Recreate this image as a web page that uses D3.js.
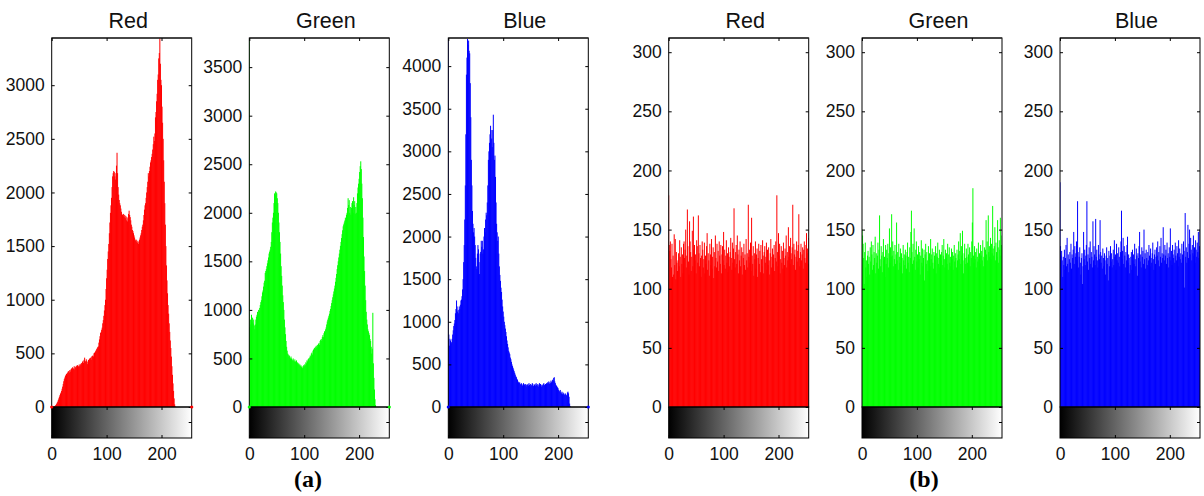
<!DOCTYPE html>
<html>
<head>
<meta charset="utf-8">
<script src="https://cdn.jsdelivr.net/npm/d3@7"></script>
<style>
body { margin: 0; background: #fff; }
svg { display: block; }
</style>
</head>
<body>
<svg width="1204" height="496"></svg>
<script>
var svg = d3.select("svg");

// chart data
var titles = ["Red", "Green", "Blue", "Red", "Green", "Blue"];
var colors = ["#ff0000", "#00ff00", "#0000ff", "#ff0000", "#00ff00", "#0000ff"];
var groupLabels = ["(a)", "(b)"];
var xTickValues = [0, 100, 200];
var yTickValues = [
  [0, 500, 1000, 1500, 2000, 2500, 3000],
  [0, 500, 1000, 1500, 2000, 2500, 3000, 3500],
  [0, 500, 1000, 1500, 2000, 2500, 3000, 3500, 4000],
  [0, 50, 100, 150, 200, 250, 300],
  [0, 50, 100, 150, 200, 250, 300],
  [0, 50, 100, 150, 200, 250, 300]
];
var yTops = [3440, 3800, 4330, 312, 312, 312];

// (a) original image histograms, bins 0..255
var redA = [
  0,0,2,3,5,8,10,15,20,30,
  40,50,65,80,95,110,125,135,150,170,
  190,215,240,260,275,290,300,310,300,320,
  330,335,320,345,330,350,360,340,370,355,
  360,380,350,375,365,385,370,390,375,380,
  395,380,400,390,410,400,420,430,410,440,
  460,430,420,445,430,400,420,440,435,450,
  455,460,440,470,475,480,470,500,505,510,
  520,530,540,550,560,565,600,630,660,690,
  700,720,740,780,810,850,900,950,1000,1100,
  1200,1280,1380,1450,1520,1620,1720,1810,1880,1950,
  2050,2150,2180,2200,2190,2150,2120,2180,2250,2370,
  2180,2050,1980,1930,1900,1880,1850,1820,1800,1790,
  1780,1800,1770,1790,1760,1780,1740,1770,1730,1760,
  1800,1830,1790,1770,1740,1700,1680,1650,1640,1620,
  1600,1580,1560,1550,1560,1540,1530,1550,1520,1540,
  1560,1580,1600,1620,1650,1680,1700,1740,1790,1840,
  1880,1900,1950,2000,2050,2100,2180,2150,2200,2240,
  2280,2300,2330,2360,2400,2450,2520,2480,2550,2700,
  2750,2850,2920,3050,3100,3250,3300,3440,3200,3050,
  3000,2800,2650,2500,2300,2100,1900,1700,1500,1320,
  1180,1060,950,870,780,700,620,550,470,380,
  300,220,150,80,25,5,0,0,0,0,
  0,0,0,0,0,0,0,0,0,0,
  0,0,0,0,0,0,0,0,0,0,
  0,0,0,0,0,0
];
var greenA = [
  3800,820,900,850,950,880,920,860,900,840,
  800,850,900,930,950,980,960,1000,990,1020,
  1050,1080,1100,1140,1180,1200,1240,1280,1300,1380,
  1400,1420,1450,1480,1510,1540,1580,1600,1620,1650,
  1700,1800,1900,1950,2000,2100,2200,2180,2220,2210,
  2200,2150,2100,2000,1900,1800,1700,1580,1450,1350,
  1250,1150,1080,1000,900,820,750,680,620,580,
  550,540,520,530,510,500,520,500,490,480,
  500,480,470,490,470,460,480,450,460,440,
  450,430,440,420,430,410,420,400,410,430,
  420,440,430,460,450,480,470,490,500,480,
  510,530,520,550,560,540,580,590,600,610,
  600,620,630,610,640,620,650,660,640,680,
  690,700,680,720,740,720,760,780,770,800,
  820,850,880,900,920,940,960,990,1010,1040,
  1070,1100,1130,1160,1190,1220,1250,1290,1330,1370,
  1420,1460,1500,1540,1580,1620,1660,1700,1740,1780,
  1820,1860,1880,1900,1920,1950,1930,1980,2000,2050,
  2150,2080,2130,2000,2060,1980,2050,2100,2120,2000,
  2160,2080,2120,1990,2060,2000,2100,2200,2260,2300,
  2350,2420,2480,2530,2450,2300,2150,1950,1750,1550,
  1400,1250,1100,980,900,850,800,780,760,740,
  700,680,620,550,600,970,450,300,180,80,
  20,0,0,0,0,0,0,0,0,0,
  0,0,0,0,0,0,0,0,0,0,
  0,0,0,0,0,0
];
var blueA = [
  4330,850,720,800,780,740,760,800,850,900,
  950,980,1020,1100,1150,1250,1180,1120,1140,1100,
  1180,1150,1200,1250,1260,1300,1380,1500,1700,1900,
  2200,2600,3200,3900,4100,4320,4250,4300,4180,4150,
  3800,3400,2900,2600,2300,2150,2050,2100,2000,1900,
  1750,1650,1620,1800,1900,1850,1700,1560,1800,1820,
  1950,1880,1950,1800,1850,2000,2100,2050,2200,2280,
  2250,2400,2600,2900,3000,3100,3200,3300,3250,3150,
  3050,3250,3430,3100,2900,2950,2700,2400,2150,2050,
  1950,2000,1800,1650,1550,1480,1400,1350,1260,1180,
  1120,1060,1000,960,920,880,830,780,740,700,
  660,640,620,580,560,530,500,480,460,440,
  420,400,380,360,350,330,320,300,290,280,
  290,270,260,280,270,250,260,280,270,260,
  250,270,260,240,260,270,250,280,260,240,
  270,260,250,280,270,250,240,260,270,250,
  280,260,250,270,240,260,280,250,270,260,
  240,260,250,270,280,260,250,270,260,280,
  270,290,280,300,270,290,280,310,290,300,
  320,310,340,350,300,280,260,250,240,230,
  220,200,190,180,200,170,160,180,150,170,
  160,150,140,160,150,140,130,170,180,160,
  120,40,10,0,0,0,0,0,0,0,
  0,0,0,0,0,0,0,0,0,0,
  0,0,0,0,0,0,0,0,0,0,
  0,0,0,0,0,0
];

// (b) encrypted image histograms, bins 0..255
var redB = [
  179,137,132,140,125,118,138,110,128,112,146,120,142,108,131,122,
  115,124,130,119,141,127,110,135,121,129,113,138,140,126,133,150,
  118,128,167,136,123,112,157,140,131,115,127,149,119,161,133,137,
  124,129,113,141,136,122,162,130,119,137,126,110,128,140,133,118,
  125,139,113,128,121,136,147,116,130,124,111,138,129,120,142,117,
  127,135,109,131,119,145,126,118,138,123,132,115,140,128,121,137,
  113,129,136,124,148,120,133,117,128,141,122,130,114,135,127,119,
  131,143,126,116,139,122,134,168,125,118,131,137,121,145,129,113,
  133,124,140,119,128,135,112,131,126,138,120,129,116,142,124,130,
  118,171,127,133,122,139,115,160,128,121,136,111,130,125,140,117,
  129,134,110,126,138,121,132,114,137,125,119,141,128,113,131,136,
  122,127,139,116,133,120,135,124,112,130,142,118,127,134,121,129,
  137,115,126,140,123,179,131,119,147,128,138,113,125,136,122,132,
  117,139,126,120,134,128,145,118,131,124,152,127,136,121,143,130,
  125,135,171,120,138,129,133,116,127,140,123,132,137,163,126,119,
  131,138,124,129,135,117,133,140,126,122,137,147,130,134,121,143
];
var greenB = [
  150,145,138,126,104,131,139,118,124,110,128,132,121,127,112,135,
  123,140,129,116,137,120,131,126,144,113,130,122,128,139,117,133,
  162,125,119,136,128,114,131,142,124,127,110,137,121,133,126,138,
  118,130,151,122,135,127,163,128,140,119,132,125,137,121,129,156,
  124,131,116,138,127,122,134,119,130,126,113,137,124,129,120,133,
  128,117,131,139,122,127,114,135,126,148,166,131,121,138,124,151,
  127,116,133,140,123,129,118,136,125,131,112,128,141,122,134,119,
  126,133,107,129,138,121,131,124,115,136,127,130,119,142,125,129,
  134,122,117,131,128,124,136,113,130,127,139,121,126,133,118,129,
  124,131,137,120,128,142,125,118,133,126,130,121,138,116,129,135,
  122,127,119,134,125,131,116,128,137,123,130,126,118,133,124,129,
  140,125,132,147,121,136,128,149,124,113,130,138,126,121,134,127,
  122,138,129,124,135,119,131,126,140,156,185,128,122,136,125,131,
  118,134,127,123,139,125,130,121,137,128,132,124,141,119,127,135,
  126,133,158,129,140,124,162,131,136,127,143,125,138,130,170,134,
  128,136,152,124,139,131,127,158,135,122,141,133,160,128,137,145
];
var blueB = [
  190,136,128,132,124,110,127,120,133,116,126,137,119,143,121,129,
  114,125,131,122,138,117,129,126,133,148,121,136,127,130,140,124,
  174,131,118,127,135,122,112,126,130,104,119,148,125,133,120,128,
  137,174,123,129,116,135,126,140,121,131,127,118,157,124,136,129,
  120,159,127,133,124,118,137,129,125,158,131,122,128,117,134,126,
  119,130,124,112,128,135,121,126,107,132,119,128,136,123,130,118,
  125,133,120,141,127,129,116,138,124,130,122,135,127,119,131,140,
  166,125,132,143,121,136,128,118,131,124,137,144,122,129,126,113,
  120,127,131,116,133,124,129,121,138,125,119,134,128,111,130,126,
  136,148,123,129,118,135,127,132,121,150,125,130,117,133,126,120,
  131,124,137,128,119,134,126,122,130,139,125,116,129,133,121,127,
  135,128,140,124,131,119,136,127,143,122,130,126,152,129,124,137,
  128,133,121,139,126,130,118,135,127,151,124,132,120,137,129,126,
  133,122,139,128,124,136,130,119,141,127,134,125,130,122,138,129,
  126,140,132,101,164,127,135,122,131,154,126,138,150,129,143,133,
  124,137,130,145,128,135,122,141,133,127,139,131,148,126,136,150
];

var series = [redA, greenA, blueA, redB, greenB, blueB];

// layout
var panelLeft = [51.7, 249.3, 448.3, 668.7, 862, 1060];
var plotW = 140;
var plotTop = 38;
var plotZero = 407;
var barBottom = 438;
var font = "'Liberation Sans', Arial, Helvetica, sans-serif";

var defs = svg.append("defs");
var grad = defs.append("linearGradient").attr("id", "gray").attr("x1", 0).attr("x2", 1).attr("y1", 0).attr("y2", 0);
grad.append("stop").attr("offset", "0%").attr("stop-color", "#000");
grad.append("stop").attr("offset", "100%").attr("stop-color", "#fff");

function styleAxis(sel) {
  sel.attr("color", "#000").attr("font-family", font).attr("font-size", 17.5);
  sel.select(".domain").remove();
  sel.selectAll("text").attr("fill", "#111");
}

series.forEach(function(data, k) {
  var left = panelLeft[k];
  var x = d3.scaleLinear().domain([0, 255]).range([left, left + plotW]);
  var y = d3.scaleLinear().domain([0, yTops[k]]).range([plotZero, plotTop]);
  var g = svg.append("g");

  defs.append("clipPath").attr("id", "clip" + k)
    .append("rect")
    .attr("x", left).attr("y", plotTop)
    .attr("width", plotW).attr("height", plotZero - plotTop);

  // stems
  g.append("g").attr("clip-path", "url(#clip" + k + ")")
    .selectAll("line")
    .data(data)
    .join("line")
    .attr("x1", function(d, i) { return x(i); })
    .attr("x2", function(d, i) { return x(i); })
    .attr("y1", y(0))
    .attr("y2", function(d) { return y(d); })
    .attr("stroke", colors[k])
    .attr("stroke-width", 1);

  // gray colorbar
  g.append("rect")
    .attr("x", left).attr("y", plotZero)
    .attr("width", plotW).attr("height", barBottom - plotZero)
    .attr("fill", "url(#gray)")
    .attr("stroke", "#000").attr("stroke-width", 1);

  // plot frame
  g.append("rect")
    .attr("x", left).attr("y", plotTop)
    .attr("width", plotW).attr("height", plotZero - plotTop)
    .attr("fill", "none")
    .attr("stroke", "#000").attr("stroke-width", 1);
  g.append("line")
    .attr("x1", left).attr("x2", left + plotW)
    .attr("y1", plotTop).attr("y2", plotTop)
    .attr("stroke", "#333").attr("stroke-width", 1.6);

  // axes
  var fmt = d3.format("d");
  g.append("g").attr("transform", "translate(" + left + ",0)")
    .call(d3.axisLeft(y).tickValues(yTickValues[k]).tickFormat(fmt).tickSizeInner(-3).tickSizeOuter(0).tickPadding(7))
    .call(styleAxis);
  g.append("g").attr("transform", "translate(" + (left + plotW) + ",0)")
    .call(d3.axisRight(y).tickValues(yTickValues[k]).tickSizeInner(-3).tickSizeOuter(0).tickFormat(""))
    .call(styleAxis);
  g.append("g").attr("transform", "translate(0," + plotTop + ")")
    .call(d3.axisTop(x).tickValues(xTickValues).tickSizeInner(-3).tickSizeOuter(0).tickFormat(""))
    .call(styleAxis);
  g.append("g").attr("transform", "translate(0," + plotZero + ")")
    .call(d3.axisBottom(x).tickValues(xTickValues).tickSizeInner(3).tickSizeOuter(0).tickFormat(""))
    .call(styleAxis);
  g.append("g").attr("transform", "translate(0," + barBottom + ")")
    .call(d3.axisBottom(x).tickValues(xTickValues).tickFormat(fmt).tickSizeInner(-3).tickSizeOuter(0).tickPadding(10))
    .call(styleAxis);
  g.append("line")
    .attr("x1", left + plotW - 3).attr("x2", left + plotW)
    .attr("y1", (plotZero + barBottom) / 2).attr("y2", (plotZero + barBottom) / 2)
    .attr("stroke", "#000");

  // end markers of the stem plot
  if (k < 3) {
    g.selectAll("circle")
      .data([0, 255])
      .join("circle")
      .attr("cx", function(d) { return x(d); })
      .attr("cy", y(0))
      .attr("r", 1.6)
      .attr("fill", colors[k]);
  }

  // title
  g.append("text")
    .attr("x", left + plotW / 2 + 6.5)
    .attr("y", 27.5)
    .attr("text-anchor", "middle")
    .attr("font-family", font)
    .attr("font-size", 21.5)
    .attr("fill", "#111")
    .text(titles[k]);
});

svg.selectAll(".group-label")
  .data(groupLabels)
  .join("text")
  .attr("class", "group-label")
  .attr("x", function(d, i) { return i === 0 ? 308 : 924; })
  .attr("y", 487)
  .attr("text-anchor", "middle")
  .attr("font-family", "'Liberation Serif', 'Times New Roman', serif")
  .attr("font-weight", "bold")
  .attr("font-size", 24)
  .attr("fill", "#000")
  .text(function(d) { return d; });
</script>
</body>
</html>
